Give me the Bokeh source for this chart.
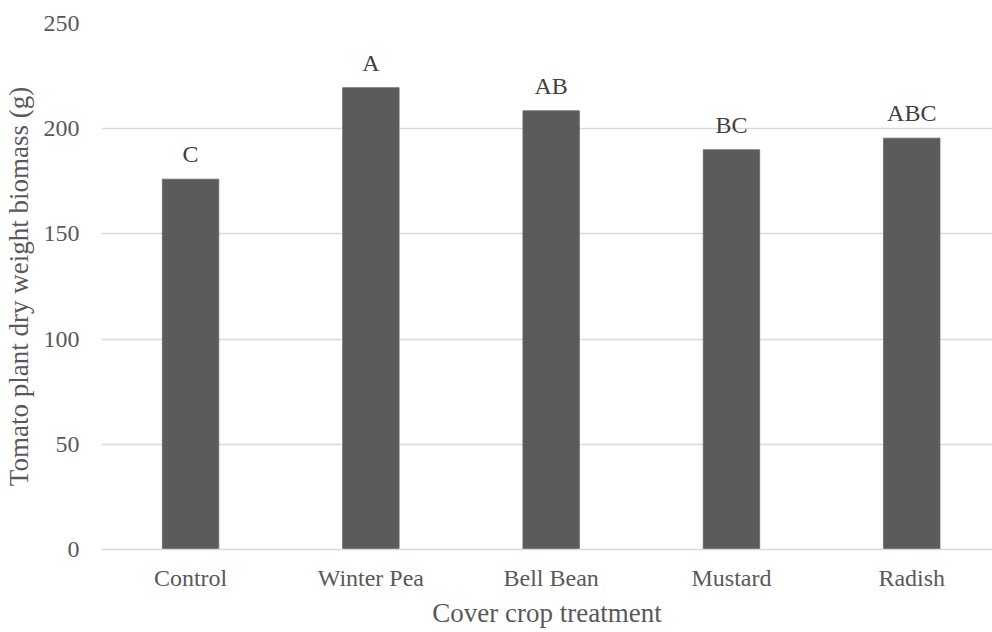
from bokeh.plotting import figure
from bokeh.models import ColumnDataSource, Range1d, FixedTicker, LabelSet
from bokeh.embed import file_html
from bokeh.resources import INLINE

categories = ["Control", "Winter Pea", "Bell Bean", "Mustard", "Radish"]
biomass = [176.0, 219.5, 208.5, 190.0, 195.5]
letters = ["C", "A", "AB", "BC", "ABC"]
y_ticks = [0, 50, 100, 150, 200, 250]

xs = [i + 0.5 for i in range(len(categories))]
src = ColumnDataSource(dict(x=xs, top=biomass, lab=letters, cat=categories))

FONT = "Liberation Serif"
TXT = "#595959"

p = figure(width=992, height=632, output_backend="svg", toolbar_location=None,
           x_range=Range1d(0.006, 892 / 180.5 + 0.006), y_range=Range1d(0, 250),
           min_border_left=100, min_border_right=0, min_border_top=23, min_border_bottom=83)

p.vbar(x="x", top="top", width=0.313, bottom=0, source=src,
       fill_color="#5b5b5b", line_color="#666666", line_width=0.8)

labels = LabelSet(x="x", y="top", text="lab", source=src, text_align="center",
                  text_baseline="alphabetic", y_offset=17,
                  text_font=FONT, text_font_size="24px", text_color="#404040")
p.add_layout(labels)

p.outline_line_color = None
p.xgrid.grid_line_color = None
p.ygrid.grid_line_color = "#d9d9d9"
p.ygrid.grid_line_width = 1.3
p.ygrid.ticker = FixedTicker(ticks=y_ticks)

p.xaxis.ticker = FixedTicker(ticks=xs)
p.xaxis.major_label_overrides = {x: c for x, c in zip(xs, categories)}
p.xaxis.axis_line_color = "#d9d9d9"
p.xaxis.axis_line_width = 1.3
p.xaxis.major_label_standoff = 15
p.xaxis.axis_label = "Cover crop treatment"
p.xaxis.axis_label_standoff = 4

p.yaxis.ticker = FixedTicker(ticks=y_ticks)
p.yaxis.axis_line_color = None
p.yaxis.major_label_standoff = 22
p.yaxis.axis_label = "Tomato plant dry weight biomass (g)"
p.yaxis.axis_label_standoff = 7

for ax in (p.xaxis, p.yaxis):
    ax.major_tick_line_color = None
    ax.minor_tick_line_color = None
    ax.major_tick_out = 0
    ax.major_tick_in = 0
    ax.minor_tick_out = 0
    ax.minor_tick_in = 0
    ax.major_label_text_font = FONT
    ax.major_label_text_font_size = "24px"
    ax.major_label_text_color = TXT
    ax.major_label_text_line_height = 1.0
    ax.axis_label_text_font = FONT
    ax.axis_label_text_font_size = "27px"
    ax.axis_label_text_font_style = "normal"
    ax.axis_label_text_color = TXT
    ax.axis_label_text_line_height = 1.0

open("out.html", "w").write(file_html(p, INLINE))
